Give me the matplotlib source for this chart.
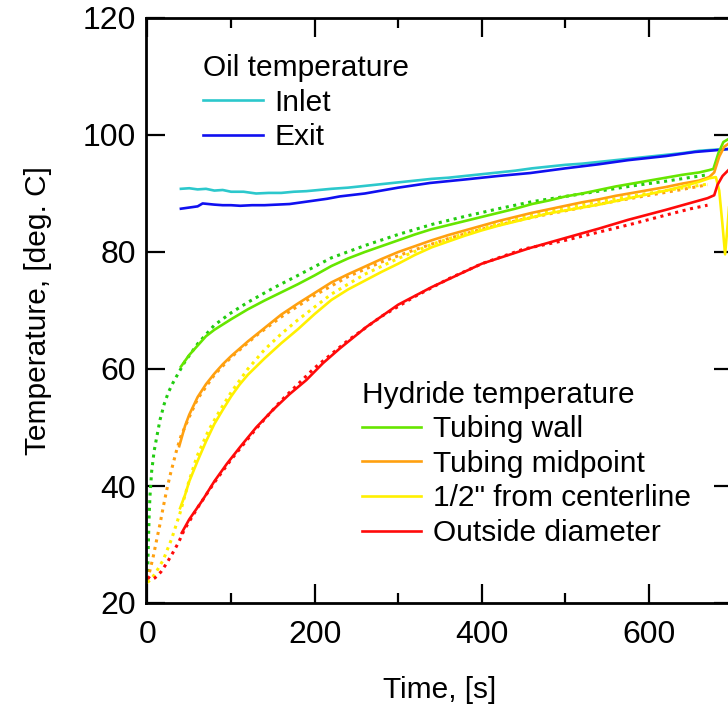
import matplotlib
matplotlib.use('Agg')
import matplotlib.pyplot as plt
from matplotlib.ticker import MultipleLocator

plt.rcParams['font.family'] = ['Liberation Sans', 'DejaVu Sans']

# Temperatura del aceite (medida)
t_inlet = [40, 50, 60, 70, 80, 90, 100, 115, 130, 145, 160, 175, 190, 205, 220, 240, 260, 280, 300,
           320, 340, 360, 380, 400, 420, 440, 460, 480, 500, 520, 540, 560, 580, 600, 620, 640, 660, 680, 695]
inlet = [90.8, 90.9, 90.7, 90.8, 90.5, 90.6, 90.3, 90.3, 90.0, 90.1, 90.1, 90.3, 90.4, 90.6, 90.8, 91.0, 91.3,
         91.6, 91.9, 92.2, 92.5, 92.7, 93.0, 93.3, 93.6, 93.9, 94.3, 94.6, 94.9, 95.1, 95.4, 95.7, 96.0,
         96.3, 96.6, 96.9, 97.3, 97.5, 97.6]
t_exit = [40, 50, 60, 66, 80, 90, 100, 111, 125, 140, 155, 170, 185, 200, 215, 230, 260, 300, 338, 380,
          420, 458, 500, 540, 575, 620, 655, 680, 695]
exit_ = [87.4, 87.6, 87.8, 88.3, 88.1, 88.0, 88.0, 87.9, 88.0, 88.0, 88.1, 88.2, 88.5, 88.8, 89.1, 89.5,
         90.0, 91.0, 91.8, 92.4, 93.0, 93.5, 94.3, 95.0, 95.7, 96.4, 97.1, 97.4, 97.6]

# Temperatura del hidruro (medida, lineas continuas)
t_wall = [40, 50, 60, 70, 80, 90, 100, 120, 140, 160, 180, 200, 220, 240, 260, 280, 300, 320, 340, 360,
          380, 400, 420, 440, 460, 480, 500, 520, 540, 560, 580, 600, 620, 640, 660, 672, 677, 683, 689, 695]
wall = [60.4, 62.4, 64.0, 65.6, 66.7, 67.6, 68.5, 70.2, 71.7, 73.1, 74.5, 76.0, 77.6, 78.9, 80.0, 81.0,
        82.0, 83.0, 83.9, 84.6, 85.3, 86.0, 86.7, 87.4, 88.2, 88.8, 89.5, 90.0, 90.6, 91.2, 91.7, 92.2,
        92.7, 93.2, 93.6, 94.0, 94.2, 96.9, 98.8, 99.3]
t_mid = [38, 45, 50, 60, 70, 80, 90, 100, 120, 140, 160, 180, 200, 220, 240, 260, 280, 300, 320, 340, 360,
         380, 400, 420, 440, 460, 480, 500, 520, 540, 560, 580, 600, 620, 640, 660, 672, 678, 684, 690, 695]
mid = [46.8, 50.3, 52.2, 55.2, 57.4, 59.2, 60.8, 62.2, 64.7, 67.0, 69.3, 71.2, 73.0, 74.8, 76.2, 77.5,
       78.8, 80.0, 81.0, 82.0, 82.9, 83.7, 84.5, 85.3, 86.0, 86.7, 87.3, 87.9, 88.5, 89.0, 89.6, 90.1,
       90.6, 91.1, 91.7, 92.2, 92.8, 93.6, 96.3, 98.0, 98.5]
t_half = [39, 45, 50, 60, 70, 80, 90, 100, 110, 120, 140, 160, 180, 200, 220, 240, 260, 280, 300, 320,
          340, 360, 380, 400, 420, 440, 460, 480, 500, 520, 540, 560, 580, 600, 620, 640, 660, 672, 680,
          684, 688, 691, 694, 697]
half = [36.2, 38.5, 40.8, 44.3, 47.6, 50.6, 53.0, 55.3, 57.3, 59.0, 61.8, 64.4, 66.8, 69.4, 71.8, 73.6,
        75.1, 76.6, 78.0, 79.5, 80.8, 81.8, 82.8, 83.7, 84.5, 85.2, 85.9, 86.6, 87.1, 87.6, 88.1, 88.7,
        89.3, 89.9, 90.5, 91.2, 92.0, 92.6, 92.8, 90.5, 84.5, 79.6, 84.5, 90.0]
t_od = [41, 50, 66, 80, 95, 111, 130, 150, 170, 190, 210, 230, 262, 300, 340, 400, 458, 500, 540, 575,
        620, 650, 670, 678, 682, 688, 695]
od = [32.0, 34.3, 37.6, 40.8, 43.8, 46.7, 50.0, 53.0, 55.7, 58.1, 61.0, 63.5, 67.2, 71.0, 74.0, 78.0,
      80.7, 82.4, 84.0, 85.5, 87.2, 88.4, 89.2, 89.7, 91.5, 93.0, 94.0]

# Modelo (lineas punteadas)
tm_wall = [0, 1, 2, 3, 5, 8, 11, 15, 20, 25, 30, 35, 45, 60, 80, 100, 120, 150, 180, 220, 260, 300,
           340, 380, 420, 460, 500, 540, 580, 620, 670]
m_wall = [24.0, 30.0, 35.0, 38.3, 42.5, 46.0, 48.3, 51.3, 54.0, 56.0, 57.5, 58.8, 61.3, 64.3, 67.5, 69.6,
          71.4, 73.8, 76.0, 79.0, 81.1, 83.0, 84.7, 86.1, 87.4, 88.6, 89.5, 90.4, 91.3, 92.1, 93.2]
tm_mid = [0, 3, 7, 11, 15, 19, 23, 27, 31, 35, 40, 50, 60, 80, 100, 130, 160, 200, 240, 280, 320, 360,
          400, 440, 480, 520, 560, 600, 640, 670]
m_mid = [24.0, 25.6, 28.0, 30.8, 33.5, 36.5, 39.3, 41.8, 44.0, 46.2, 48.5, 51.8, 54.9, 59.0, 62.0, 65.7,
         68.9, 72.6, 75.8, 78.3, 80.4, 82.3, 83.9, 85.3, 86.5, 87.6, 88.7, 89.7, 90.7, 91.5]
tm_half = [0, 5, 10, 19, 29, 39, 49, 59, 73, 87, 100, 120, 140, 160, 180, 200, 220, 260, 300, 340, 380,
           420, 460, 500, 540, 580, 620, 670]
m_half = [23.5, 24.2, 25.2, 27.4, 31.0, 35.4, 40.5, 45.0, 49.5, 53.0, 56.0, 60.0, 63.3, 66.0, 68.4, 70.6,
          72.8, 76.2, 78.9, 81.3, 83.2, 84.9, 86.3, 87.5, 88.6, 89.6, 90.5, 91.6]
tm_od = [0, 5, 9, 16, 23, 30, 37, 44, 60, 80, 100, 130, 160, 200, 240, 280, 320, 360, 400, 450, 500,
         540, 580, 620, 650, 670]
m_od = [24.5, 24.0, 24.3, 25.3, 26.8, 28.5, 30.3, 32.5, 36.3, 40.6, 44.5, 49.8, 54.6, 60.2, 64.9, 69.0,
        72.4, 75.4, 78.0, 80.5, 82.0, 83.4, 84.8, 86.3, 87.4, 88.0]

# Colores
c_inlet = '#2CC8CC'
c_exit = '#1010F0'
c_wall = '#66E600'
c_mid = '#FFA010'
c_half = '#FFF000'
c_od = '#FF0A0A'

fig = plt.figure(figsize=(7.28, 7.08), dpi=100)
# el eje derecho queda un poco fuera de la imagen, como en el original
ax = fig.add_axes([145.8 / 728, 105 / 708, 586.8 / 728, 585 / 708])

dot = (0, (1, 1.5))
lw = 1.9
ax.plot(tm_wall, m_wall, color='#22CC11', lw=2.2, ls=dot)
ax.plot(tm_mid, m_mid, color=c_mid, lw=2.2, ls=dot)
ax.plot(tm_half, m_half, color=c_half, lw=2.2, ls=dot)
ax.plot(tm_od, m_od, color=c_od, lw=2.2, ls=dot)

l_in, = ax.plot(t_inlet, inlet, color=c_inlet, lw=lw)
l_ex, = ax.plot(t_exit, exit_, color=c_exit, lw=lw)
l_wall, = ax.plot(t_wall, wall, color=c_wall, lw=lw)
l_mid, = ax.plot(t_mid, mid, color=c_mid, lw=lw)
l_half, = ax.plot(t_half, half, color=c_half, lw=lw)
l_od, = ax.plot(t_od, od, color=c_od, lw=lw)

ax.set_xlim(-2, 700)
ax.set_ylim(20, 120)
ax.xaxis.set_major_locator(MultipleLocator(200))
ax.xaxis.set_minor_locator(MultipleLocator(100))
ax.yaxis.set_major_locator(MultipleLocator(20))
ax.tick_params(which='both', direction='in', top=True, right=True, width=1.6, labelsize=23)
ax.tick_params(which='major', length=14)
ax.tick_params(which='minor', length=7)
ax.tick_params(axis='x', which='major', pad=12)
ax.tick_params(axis='y', which='major', pad=7)
for s in ax.spines.values():
    s.set_linewidth(2.0)

ax.set_xlabel('Time, [s]', fontsize=21.5, labelpad=19)
ax.set_ylabel('Temperature, [deg. C]', fontsize=21.5, labelpad=22)

# Leyendas
leg1 = ax.legend([l_in, l_ex], ['Inlet', 'Exit'], title='Oil temperature', loc='upper left',
                 bbox_to_anchor=(0.0975, 0.938), frameon=False, fontsize=21.5, title_fontsize=21.5,
                 alignment='left', handlelength=2.0, handletextpad=0.4, labelspacing=0.22,
                 borderpad=0, borderaxespad=0)
ax.add_artist(leg1)
ax.legend([l_wall, l_mid, l_half, l_od],
          ['Tubing wall', 'Tubing midpoint', '1/2" from centerline', 'Outside diameter'],
          title='Hydride temperature', loc='upper left', bbox_to_anchor=(0.368, 0.38),
          frameon=False, fontsize=21.5, title_fontsize=21.5, alignment='left', handlelength=2.0,
          handletextpad=0.4, labelspacing=0.22, borderpad=0, borderaxespad=0)

fig.savefig('out.png', dpi=100)
